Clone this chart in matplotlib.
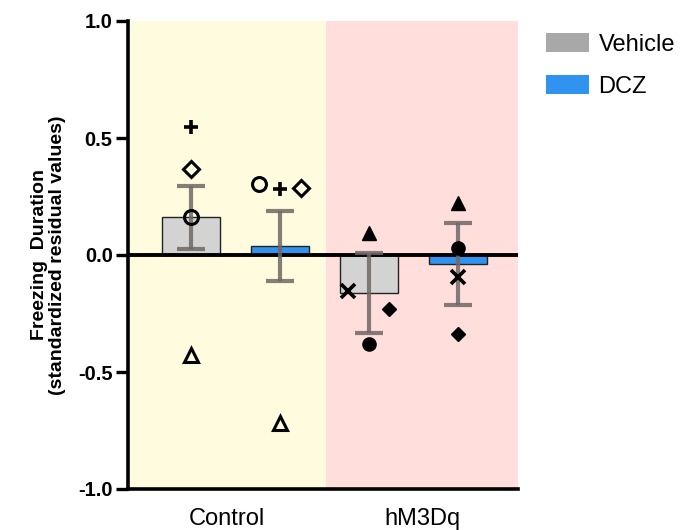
import matplotlib
matplotlib.use("Agg")
import matplotlib.pyplot as plt
from matplotlib.patches import Patch
import numpy as np

plt.rcParams['font.family'] = ['Liberation Sans', 'DejaVu Sans']

# ---- data ----
groups = ["Control", "hM3Dq"]
treatments = ["Vehicle", "DCZ"]
means = [0.162, 0.038, -0.162, -0.038]          # Ctrl-Veh, Ctrl-DCZ, hM3Dq-Veh, hM3Dq-DCZ
sems = [0.135, 0.150, 0.170, 0.175]

# individual animals (values per bar), marker per animal
pts_ctrl_veh = [0.548, 0.366, 0.164, -0.427]
pts_ctrl_dcz = [0.303, 0.281, 0.288, -0.716]
pts_hm_veh = [0.095, -0.154, -0.231, -0.380]
pts_hm_dcz = [0.222, 0.031, -0.095, -0.339]
ctrl_markers = ['+', 'D', 'o', '^']     # open markers (Control)
ctrl_dcz_markers = ['o', '+', 'D', '^']
hm_markers = ['^', 'x', 'D', 'o']       # filled markers (hM3Dq)
hm_dcz_markers = ['^', 'o', 'x', 'D']

# ---- style ----
veh_color = '#d3d3d3'
dcz_color = '#2f93ef'
legend_veh = '#a8a8a8'
err_color = '#6f6864'
yellow_bg = '#fffbdf'
pink_bg = '#ffdedc'

fig = plt.figure(figsize=(6.9, 5.3), dpi=100)
ax = fig.add_axes([128/690, 41/530, 390/690, 468/530])

xpos = np.arange(4)
ax.set_xlim(-0.708, 3.674)
ax.set_ylim(-1.0, 1.0)

ax.axvspan(-0.708, 1.517, color=yellow_bg, zorder=0, lw=0)
ax.axvspan(1.517, 3.674, color=pink_bg, zorder=0, lw=0)

colors = [veh_color, dcz_color, veh_color, dcz_color]
ax.bar(xpos, means, width=0.655, color=colors, edgecolor='#222222', linewidth=1.0, zorder=2)
ax.axhline(0, color='black', lw=2.8, zorder=3)
ax.errorbar(xpos, means, yerr=sems, fmt='none', ecolor=err_color, elinewidth=3.0,
            capsize=10, capthick=3.0, alpha=0.85, zorder=4)

offs = 0.235
def draw_pts(x0, vals, markers, xoffs, filled):
    for v, m, dx in zip(vals, markers, xoffs):
        kw = dict(color='black', zorder=5, linestyle='none')
        if m == 'o':
            ms = 10 if not filled else 9.5
        elif m == 'D':
            ms = 8 if not filled else 7.2
        elif m == '^':
            ms = 9.5
        else:
            ms = 9.5
        if filled or m in ['+', 'x']:
            ax.plot(x0 + dx, v, marker=m, markersize=ms, markerfacecolor='black',
                    markeredgecolor='black', markeredgewidth=2.6 if m in ['+', 'x'] else 1, **kw)
        else:
            ax.plot(x0 + dx, v, marker=m, markersize=ms, markerfacecolor='none',
                    markeredgecolor='black', markeredgewidth=2.2, **kw)

draw_pts(0, pts_ctrl_veh, ctrl_markers, [0, 0, 0, 0], False)
draw_pts(1, pts_ctrl_dcz, ctrl_dcz_markers, [-offs, 0, offs, 0], False)
draw_pts(2, pts_hm_veh, hm_markers, [0, -offs, offs * 0.95, 0], True)
draw_pts(3, pts_hm_dcz, hm_dcz_markers, [0, 0, 0, 0], True)

# axes styling
for s in ['top', 'right']:
    ax.spines[s].set_visible(False)
for s in ['left', 'bottom']:
    ax.spines[s].set_linewidth(2.6)
ax.set_yticks([-1.0, -0.5, 0.0, 0.5, 1.0])
ax.set_yticklabels(['-1.0', '-0.5', '0.0', '0.5', '1.0'], fontsize=14.5, fontweight='bold')
ax.tick_params(axis='y', length=9, width=2.4, pad=2)
ax.set_xticks([0.40, 2.60])
ax.set_xticklabels(groups, fontsize=17)
ax.tick_params(axis='x', length=0, pad=14)
ax.set_ylabel('Freezing  Duration\n(standardized residual values)', fontsize=14,
              fontweight='bold', labelpad=9, linespacing=1.05)

handles = [Patch(facecolor=legend_veh, edgecolor='none', label=treatments[0]),
           Patch(facecolor=dcz_color, edgecolor='none', label=treatments[1])]
fig.legend(handles=handles, loc='upper left', bbox_to_anchor=(546/690, 1 - 33/530),
           frameon=False, fontsize=17, handlelength=1.82, handleheight=0.85,
           handletextpad=0.4, labelspacing=0.82, borderpad=0, borderaxespad=0)

fig.savefig('out.png', dpi=100)
